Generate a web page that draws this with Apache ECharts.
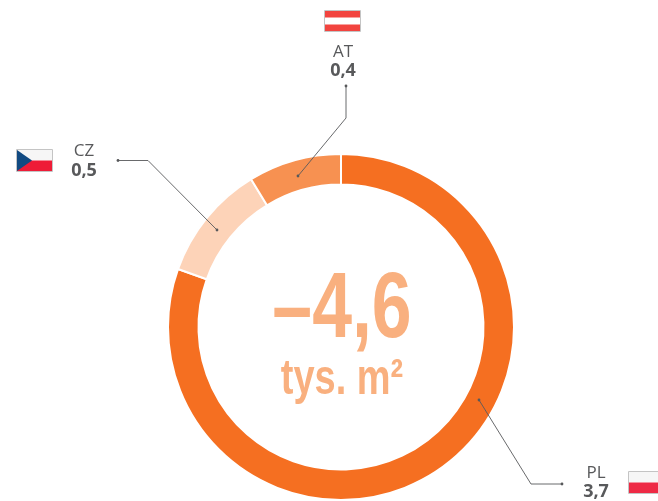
<!DOCTYPE html>
<html><head><meta charset="utf-8">
<style>html,body{margin:0;padding:0;background:#fff;overflow:hidden}#c{width:658px;height:501px}</style>
<script src="https://cdn.jsdelivr.net/npm/echarts@6/dist/echarts.min.js"></script>
</head><body><div id="c"></div>
<script>
const categories = ['PL', 'CZ', 'AT'];
const values = [3.7, 0.5, 0.4];
const valueLabels = ['3,7', '0,5', '0,4'];
const colors = ['#F56F21', '#FDD3B8', '#F79151'];
const totalLabel = '–4,6';
const unitLabel = 'tys. m²';

const chart = echarts.init(document.getElementById('c'), null, {renderer: 'canvas'});
const GREY = '#58595B', LINE = '#58595B', BORDER = '#C4C4C4';

function leader(points) {
  const [x, y] = points[0], last = points[points.length - 1];
  return [
    {type: 'polyline', shape: {points}, style: {stroke: LINE, lineWidth: 0.9, fill: null}, z: 10},
    {type: 'circle', shape: {cx: x, cy: y, r: 1.4}, style: {fill: LINE}, z: 10},
    {type: 'circle', shape: {cx: last[0], cy: last[1], r: 1.4}, style: {fill: LINE}, z: 10}
  ];
}
function label(cx, y1, y2, i) {
  const font = '"Open Sans"';
  return [
    {type: 'text', x: cx, y: y1, style: {text: categories[i], font: '17px ' + font, fill: GREY, align: 'center', verticalAlign: 'middle'}, z: 10},
    {type: 'text', x: cx, y: y2, style: {text: valueLabels[i], font: 'bold 18px ' + font, fill: GREY, align: 'center', verticalAlign: 'middle'}, z: 10}
  ];
}
function frame(x, y, w, h) {
  return {type: 'rect', shape: {x: x - 0.5, y: y - 0.5, width: w + 1, height: h + 1}, style: {fill: null, stroke: BORDER, lineWidth: 1}, z: 12};
}
function rect(x, y, w, h, fill) {
  return {type: 'rect', shape: {x, y, width: w, height: h}, style: {fill}, z: 11};
}
const flagAT = [rect(325, 11, 35, 20, '#fff'), rect(325, 11, 35, 6.5, '#F2443F'), rect(325, 24.5, 35, 6.5, '#F2443F'), frame(325, 11, 35, 20)];
const flagCZ = [rect(17, 150, 35, 10.5, '#F6F6F6'), rect(17, 160.5, 35, 10.5, '#EE1C37'),
  {type: 'polygon', shape: {points: [[17, 150], [32, 160.5], [17, 171]]}, style: {fill: '#114A82'}, z: 12}, frame(17, 150, 35, 21)];
const flagPL = [rect(629, 472, 36, 10.5, '#F6F6F6'), rect(629, 482.5, 36, 10.5, '#EE2A45'), frame(629, 472, 36, 21)];

chart.setOption({
  animation: false,
  backgroundColor: '#fff',
  series: [{
    type: 'pie',
    silent: true,
    center: [341, 327],
    radius: [142.5, 173],
    startAngle: 90,
    clockwise: true,
    label: {show: false},
    labelLine: {show: false},
    itemStyle: {borderColor: '#fff', borderWidth: 2},
    data: categories.map((name, i) => ({name, value: values[i], itemStyle: {color: colors[i]}}))
  }],
  graphic: {elements: [
    ...leader([[298, 176], [346, 118], [346, 86]]),
    ...leader([[217, 230], [148, 160.5], [118, 160.5]]),
    ...leader([[479, 400], [531, 484], [562, 484]]),
    ...label(343, 52, 71, 2),
    ...label(84, 151, 171, 1),
    ...label(596, 473, 492, 0),
    ...flagAT, ...flagCZ, ...flagPL,
    {type: 'text', x: 342, y: 311, scaleX: 0.77, style: {text: totalLabel, font: 'bold 93px "Liberation Sans"', fill: '#F9B07F', align: 'center', verticalAlign: 'middle'}, z: 10},
    {type: 'text', x: 342, y: 380, scaleX: 0.76, style: {text: unitLabel, font: 'bold 50px "Liberation Sans"', fill: '#F9B07F', align: 'center', verticalAlign: 'middle'}, z: 10}
  ]}
});
</script></body></html>
